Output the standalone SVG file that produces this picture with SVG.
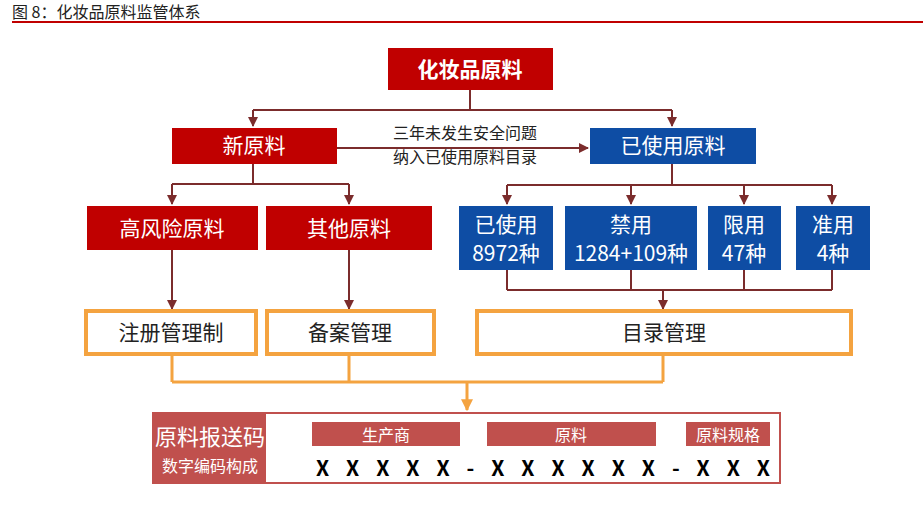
<svg xmlns="http://www.w3.org/2000/svg" width="923" height="515" viewBox="0 0 923 515">
<defs>
<style>
text{font-family:"Noto Sans CJK SC","Liberation Sans",sans-serif;}
.w{fill:#fff;text-anchor:middle;font-size:21px;}
.red{fill:#C00000;}
.blue{fill:#0E4DA4;}
.org{fill:#fff;stroke:#F4A340;stroke-width:4;}
.ot{fill:#222;text-anchor:middle;font-size:21px;}
.ln{fill:none;stroke:#7B2C2C;stroke-width:2;}
.ol{fill:none;stroke:#F4A340;stroke-width:3;}
.sb{fill:#C0504D;}
</style>
<marker id="a" viewBox="0 0 10 10" refX="9" refY="5" markerWidth="5" markerHeight="5" orient="auto"><path d="M0,0L10,5L0,10z" fill="#7B2C2C"/></marker>
<marker id="o" viewBox="0 0 10 10" refX="9" refY="5" markerWidth="4" markerHeight="4" orient="auto"><path d="M0,0L10,5L0,10z" fill="#F4A340"/></marker>
</defs>
<rect width="923" height="515" fill="#fff"/>
<text x="12" y="18" font-size="16" fill="#222">图 8：化妆品原料监管体系</text>
<rect x="12" y="21" width="911" height="2" fill="#C00000"/>
<g id="connectors">
<path class="ln" d="M470,90V110M253,110H672"/>
<path class="ln" d="M253,110V126" marker-end="url(#a)"/>
<path class="ln" d="M672,110V126" marker-end="url(#a)"/>
<path class="ln" d="M337,148H588" marker-end="url(#a)"/>
<path class="ln" d="M253,164V184M172,184H349"/>
<path class="ln" d="M172,184V204" marker-end="url(#a)"/>
<path class="ln" d="M349,184V204" marker-end="url(#a)"/>
<path class="ln" d="M672,164V185M507,185H832"/>
<path class="ln" d="M507,185V204" marker-end="url(#a)"/>
<path class="ln" d="M631,185V204" marker-end="url(#a)"/>
<path class="ln" d="M744,185V204" marker-end="url(#a)"/>
<path class="ln" d="M832,185V204" marker-end="url(#a)"/>
<path class="ln" d="M507,270V290M631,270V290M744,270V290M832,270V290M507,290H832"/>
<path class="ln" d="M663,290V309" marker-end="url(#a)"/>
<path class="ln" d="M172,250V309" marker-end="url(#a)"/>
<path class="ln" d="M349,250V309" marker-end="url(#a)"/>
<path class="ol" d="M172,356V382M349,356V382M663,356V382M172,382H663"/>
<path class="ol" d="M467,382V410" marker-end="url(#o)"/>
</g>
<g id="top"><rect class="red" x="388" y="48" width="165" height="42"/><text class="w" x="470" y="77" font-weight="bold">化妆品原料</text></g>
<g id="new"><rect class="red" x="172" y="128" width="165" height="36"/><text class="w" x="254" y="153">新原料</text></g>
<g id="used"><rect class="blue" x="590" y="128" width="166" height="36"/><text class="w" x="673" y="153">已使用原料</text></g>
<g id="edge-label"><text x="465" y="139" font-size="16" text-anchor="middle" fill="#222">三年未发生安全问题</text><text x="465" y="163" font-size="16" text-anchor="middle" fill="#222">纳入已使用原料目录</text></g>
<g id="high"><rect class="red" x="87" y="206" width="171" height="44"/><text class="w" x="172" y="236">高风险原料</text></g>
<g id="other"><rect class="red" x="266" y="206" width="166" height="44"/><text class="w" x="349" y="236">其他原料</text></g>
<g id="b1"><rect class="blue" x="459" y="206" width="94" height="64"/><text class="w" x="506" y="232">已使用</text><text class="w" x="506" y="261">8972种</text></g>
<g id="b2"><rect class="blue" x="565" y="206" width="132" height="64"/><text class="w" x="631" y="232">禁用</text><text class="w" x="631" y="261">1284+109种</text></g>
<g id="b3"><rect class="blue" x="708" y="206" width="73" height="64"/><text class="w" x="744" y="232">限用</text><text class="w" x="744" y="261">47种</text></g>
<g id="b4"><rect class="blue" x="796" y="206" width="74" height="64"/><text class="w" x="833" y="232">准用</text><text class="w" x="833" y="261">4种</text></g>
<g id="reg"><rect class="org" x="86" y="311" width="170" height="43"/><text class="ot" x="171" y="340">注册管理制</text></g>
<g id="rec"><rect class="org" x="267" y="311" width="167" height="43"/><text class="ot" x="350" y="340">备案管理</text></g>
<g id="cat"><rect class="org" x="477" y="311" width="374" height="43"/><text class="ot" x="664" y="340">目录管理</text></g>
<g id="code">
<rect x="153" y="413" width="627" height="70" fill="#fff" stroke="#C0504D" stroke-width="2"/>
<rect class="sb" x="153" y="413" width="113" height="70"/>
<text x="210" y="445" fill="#fff" font-size="22" text-anchor="middle">原料报送码</text>
<text x="210" y="472" fill="#fff" font-size="16" text-anchor="middle">数字编码构成</text>
<rect class="sb" x="312" y="422" width="148" height="24"/><text x="386" y="441" fill="#fff" font-size="16" text-anchor="middle">生产商</text>
<rect class="sb" x="487" y="422" width="169" height="24"/><text x="571" y="441" fill="#fff" font-size="16" text-anchor="middle">原料</text>
<rect class="sb" x="686" y="422" width="84" height="24"/><text x="728" y="441" fill="#fff" font-size="16" text-anchor="middle">原料规格</text>
<text x="316" y="476" font-size="21" font-weight="bold" fill="#000" font-family="Liberation Sans,sans-serif" textLength="454" lengthAdjust="spacing">X X X X X - X X X X X X - X X X</text>
</g>
</svg>
